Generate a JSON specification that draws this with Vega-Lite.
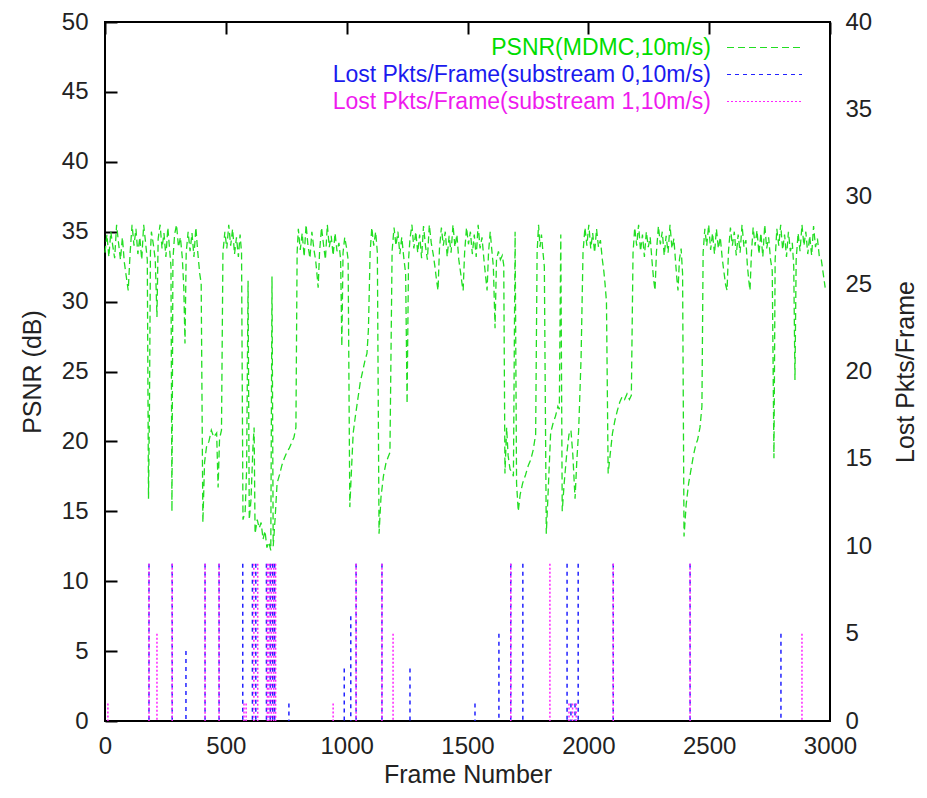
{
  "$schema": "https://vega.github.io/schema/vega-lite/v6.json",
  "width": 725,
  "height": 699,
  "autosize": {"type": "none"},
  "padding": {"left": 105, "top": 22, "right": 97, "bottom": 77},
  "background": "#ffffff",
  "config": {
    "view": {"stroke": "#000000", "strokeWidth": 2},
    "axis": {
      "labelFont": "Liberation Sans", "labelFontSize": 24, "labelColor": "#222222",
      "titleFont": "Liberation Sans", "titleFontSize": 25, "titleFontWeight": "normal", "titleColor": "#222222",
      "domain": false, "ticks": false, "offset": 0, "format": "d",
      "grid": true, "gridColor": "#000000", "gridOpacity": 1, "gridWidth": 2, "gridDash": [12, 3000]
    },
    "legend": {"labelFont": "Liberation Sans"}
  },
  "datasets": {
    "psnr": [
      {"f":0,"v":33.5},{"f":8,"v":34.8},{"f":16,"v":33.2},{"f":24,"v":35.0},{"f":32,"v":34.0},{"f":40,"v":33.1},{"f":48,"v":35.5},{"f":56,"v":34.2},{"f":64,"v":33.0},{"f":72,"v":34.6},{"f":80,"v":32.8},{"f":88,"v":31.8},{"f":96,"v":30.8},{"f":104,"v":33.5},{"f":112,"v":35.5},{"f":120,"v":34.0},{"f":128,"v":35.2},{"f":136,"v":33.4},{"f":144,"v":34.6},{"f":152,"v":33.0},{"f":160,"v":35.5},{"f":168,"v":34.2},{"f":175,"v":33.0},{"f":180,"v":15.9},{"f":184,"v":22.5},{"f":188,"v":33.5},{"f":192,"v":35.0},{"f":200,"v":34.1},{"f":208,"v":33.0},{"f":215,"v":28.9},{"f":220,"v":34.5},{"f":228,"v":35.5},{"f":236,"v":33.8},{"f":244,"v":34.9},{"f":252,"v":33.2},{"f":260,"v":35.3},{"f":268,"v":33.6},{"f":273,"v":32.5},{"f":277,"v":15.0},{"f":281,"v":33.0},{"f":288,"v":34.8},{"f":296,"v":35.5},{"f":304,"v":33.9},{"f":312,"v":34.6},{"f":320,"v":33.1},{"f":326,"v":31.0},{"f":331,"v":27.0},{"f":336,"v":33.5},{"f":344,"v":35.0},{"f":352,"v":33.6},{"f":360,"v":34.9},{"f":368,"v":33.2},{"f":376,"v":35.3},{"f":384,"v":33.5},{"f":392,"v":32.0},{"f":398,"v":31.3},{"f":405,"v":14.2},{"f":412,"v":18.5},{"f":420,"v":19.6},{"f":430,"v":20.0},{"f":440,"v":20.8},{"f":450,"v":20.3},{"f":462,"v":20.6},{"f":468,"v":16.7},{"f":474,"v":20.2},{"f":482,"v":20.8},{"f":488,"v":33.5},{"f":496,"v":35.0},{"f":504,"v":33.8},{"f":512,"v":35.5},{"f":520,"v":34.0},{"f":528,"v":35.2},{"f":536,"v":33.4},{"f":544,"v":34.6},{"f":552,"v":33.2},{"f":559,"v":34.8},{"f":565,"v":33.5},{"f":571,"v":14.4},{"f":580,"v":15.0},{"f":586,"v":18.0},{"f":592,"v":31.5},{"f":597,"v":14.4},{"f":604,"v":15.8},{"f":612,"v":19.5},{"f":617,"v":21.0},{"f":621,"v":13.4},{"f":630,"v":14.4},{"f":638,"v":13.8},{"f":646,"v":14.2},{"f":654,"v":13.0},{"f":662,"v":13.6},{"f":670,"v":12.4},{"f":678,"v":12.8},{"f":686,"v":12.2},{"f":691,"v":31.8},{"f":696,"v":12.5},{"f":704,"v":14.5},{"f":712,"v":17.0},{"f":722,"v":17.6},{"f":732,"v":18.3},{"f":742,"v":18.8},{"f":752,"v":19.2},{"f":762,"v":19.5},{"f":772,"v":19.9},{"f":782,"v":20.3},{"f":790,"v":21.0},{"f":795,"v":33.5},{"f":800,"v":35.2},{"f":808,"v":33.7},{"f":816,"v":34.9},{"f":824,"v":33.2},{"f":832,"v":35.5},{"f":840,"v":34.0},{"f":848,"v":33.1},{"f":856,"v":35.0},{"f":864,"v":33.8},{"f":872,"v":32.9},{"f":878,"v":31.8},{"f":882,"v":31.0},{"f":888,"v":33.6},{"f":896,"v":35.3},{"f":904,"v":34.1},{"f":912,"v":33.0},{"f":920,"v":35.5},{"f":928,"v":33.9},{"f":936,"v":34.7},{"f":944,"v":33.3},{"f":952,"v":34.9},{"f":960,"v":33.6},{"f":968,"v":34.2},{"f":975,"v":33.0},{"f":980,"v":26.8},{"f":985,"v":33.5},{"f":992,"v":34.6},{"f":1000,"v":33.8},{"f":1006,"v":33.0},{"f":1013,"v":15.3},{"f":1020,"v":18.0},{"f":1027,"v":20.6},{"f":1036,"v":21.8},{"f":1046,"v":23.0},{"f":1056,"v":24.2},{"f":1066,"v":25.0},{"f":1076,"v":25.8},{"f":1084,"v":26.3},{"f":1090,"v":28.0},{"f":1097,"v":33.5},{"f":1104,"v":35.3},{"f":1112,"v":34.0},{"f":1120,"v":35.0},{"f":1127,"v":33.5},{"f":1134,"v":13.4},{"f":1142,"v":16.0},{"f":1152,"v":17.5},{"f":1162,"v":18.4},{"f":1172,"v":18.9},{"f":1179,"v":19.2},{"f":1188,"v":33.6},{"f":1196,"v":35.3},{"f":1204,"v":34.0},{"f":1212,"v":35.0},{"f":1220,"v":33.4},{"f":1228,"v":34.6},{"f":1236,"v":33.2},{"f":1244,"v":32.0},{"f":1250,"v":22.7},{"f":1256,"v":33.0},{"f":1262,"v":34.5},{"f":1270,"v":35.5},{"f":1278,"v":33.8},{"f":1286,"v":35.0},{"f":1294,"v":33.5},{"f":1302,"v":34.8},{"f":1310,"v":33.1},{"f":1318,"v":35.4},{"f":1326,"v":34.0},{"f":1334,"v":33.0},{"f":1342,"v":35.5},{"f":1350,"v":34.2},{"f":1358,"v":33.4},{"f":1366,"v":32.4},{"f":1372,"v":31.5},{"f":1378,"v":30.8},{"f":1384,"v":33.8},{"f":1392,"v":35.3},{"f":1400,"v":34.0},{"f":1408,"v":35.0},{"f":1416,"v":33.2},{"f":1424,"v":34.7},{"f":1432,"v":33.5},{"f":1440,"v":35.5},{"f":1448,"v":33.9},{"f":1456,"v":34.8},{"f":1464,"v":33.0},{"f":1472,"v":32.0},{"f":1478,"v":31.2},{"f":1482,"v":30.8},{"f":1488,"v":33.5},{"f":1496,"v":35.3},{"f":1504,"v":34.1},{"f":1512,"v":35.0},{"f":1520,"v":33.4},{"f":1528,"v":34.8},{"f":1536,"v":33.2},{"f":1544,"v":35.5},{"f":1552,"v":33.8},{"f":1560,"v":34.6},{"f":1568,"v":33.0},{"f":1575,"v":31.8},{"f":1581,"v":30.8},{"f":1587,"v":33.5},{"f":1594,"v":35.0},{"f":1600,"v":33.8},{"f":1607,"v":32.5},{"f":1614,"v":28.1},{"f":1620,"v":33.0},{"f":1628,"v":33.6},{"f":1636,"v":33.0},{"f":1644,"v":33.3},{"f":1650,"v":32.6},{"f":1655,"v":17.7},{"f":1662,"v":21.0},{"f":1668,"v":19.0},{"f":1676,"v":18.0},{"f":1684,"v":17.8},{"f":1690,"v":17.5},{"f":1697,"v":35.0},{"f":1703,"v":17.0},{"f":1710,"v":15.0},{"f":1718,"v":16.2},{"f":1728,"v":17.0},{"f":1740,"v":17.6},{"f":1752,"v":18.3},{"f":1762,"v":18.7},{"f":1772,"v":19.4},{"f":1782,"v":20.5},{"f":1788,"v":33.5},{"f":1794,"v":35.5},{"f":1800,"v":33.9},{"f":1806,"v":34.8},{"f":1812,"v":33.6},{"f":1818,"v":32.5},{"f":1826,"v":13.4},{"f":1834,"v":16.5},{"f":1844,"v":20.6},{"f":1854,"v":21.3},{"f":1864,"v":21.8},{"f":1874,"v":22.5},{"f":1880,"v":22.3},{"f":1886,"v":34.8},{"f":1892,"v":15.0},{"f":1900,"v":17.0},{"f":1910,"v":19.0},{"f":1920,"v":20.5},{"f":1928,"v":20.8},{"f":1936,"v":19.0},{"f":1945,"v":15.9},{"f":1952,"v":18.5},{"f":1960,"v":20.8},{"f":1970,"v":26.0},{"f":1978,"v":33.5},{"f":1986,"v":35.3},{"f":1994,"v":34.0},{"f":2002,"v":35.5},{"f":2010,"v":33.8},{"f":2018,"v":34.9},{"f":2026,"v":33.5},{"f":2034,"v":35.2},{"f":2042,"v":33.9},{"f":2050,"v":34.4},{"f":2058,"v":33.0},{"f":2064,"v":32.2},{"f":2069,"v":31.3},{"f":2075,"v":30.0},{"f":2082,"v":17.7},{"f":2090,"v":19.0},{"f":2100,"v":20.6},{"f":2110,"v":21.5},{"f":2120,"v":22.2},{"f":2130,"v":22.8},{"f":2140,"v":23.2},{"f":2150,"v":23.0},{"f":2160,"v":23.4},{"f":2170,"v":23.0},{"f":2178,"v":23.3},{"f":2185,"v":33.5},{"f":2192,"v":35.3},{"f":2200,"v":34.0},{"f":2208,"v":35.5},{"f":2216,"v":33.6},{"f":2224,"v":34.8},{"f":2232,"v":33.2},{"f":2240,"v":35.0},{"f":2248,"v":33.9},{"f":2256,"v":34.6},{"f":2264,"v":32.8},{"f":2270,"v":31.6},{"f":2276,"v":30.8},{"f":2282,"v":33.6},{"f":2290,"v":35.4},{"f":2298,"v":34.1},{"f":2306,"v":35.0},{"f":2314,"v":33.3},{"f":2322,"v":34.7},{"f":2330,"v":33.5},{"f":2338,"v":35.5},{"f":2346,"v":33.8},{"f":2354,"v":34.5},{"f":2362,"v":32.6},{"f":2367,"v":31.5},{"f":2371,"v":30.8},{"f":2377,"v":33.0},{"f":2384,"v":33.8},{"f":2390,"v":32.0},{"f":2396,"v":13.2},{"f":2405,"v":15.5},{"f":2415,"v":17.0},{"f":2425,"v":18.0},{"f":2435,"v":19.0},{"f":2445,"v":19.8},{"f":2452,"v":20.1},{"f":2462,"v":21.0},{"f":2470,"v":22.5},{"f":2475,"v":33.5},{"f":2482,"v":35.2},{"f":2490,"v":34.0},{"f":2498,"v":35.5},{"f":2506,"v":33.7},{"f":2514,"v":34.9},{"f":2522,"v":33.4},{"f":2530,"v":35.2},{"f":2538,"v":33.8},{"f":2546,"v":34.6},{"f":2554,"v":33.1},{"f":2562,"v":32.0},{"f":2568,"v":31.2},{"f":2574,"v":30.8},{"f":2580,"v":33.6},{"f":2588,"v":35.3},{"f":2596,"v":34.0},{"f":2604,"v":35.0},{"f":2612,"v":33.3},{"f":2620,"v":34.8},{"f":2628,"v":33.5},{"f":2636,"v":35.5},{"f":2644,"v":33.9},{"f":2652,"v":34.4},{"f":2658,"v":32.6},{"f":2664,"v":31.5},{"f":2669,"v":30.8},{"f":2675,"v":33.5},{"f":2682,"v":35.3},{"f":2690,"v":34.0},{"f":2698,"v":35.1},{"f":2706,"v":33.4},{"f":2714,"v":34.9},{"f":2722,"v":33.2},{"f":2730,"v":35.5},{"f":2738,"v":33.8},{"f":2746,"v":34.6},{"f":2754,"v":33.0},{"f":2761,"v":32.2},{"f":2768,"v":18.8},{"f":2773,"v":33.0},{"f":2780,"v":35.2},{"f":2788,"v":34.0},{"f":2796,"v":35.5},{"f":2804,"v":33.7},{"f":2812,"v":34.8},{"f":2820,"v":33.2},{"f":2828,"v":35.0},{"f":2836,"v":33.6},{"f":2844,"v":34.2},{"f":2850,"v":32.5},{"f":2855,"v":24.4},{"f":2860,"v":33.0},{"f":2868,"v":34.9},{"f":2876,"v":33.6},{"f":2884,"v":35.5},{"f":2892,"v":34.0},{"f":2900,"v":35.0},{"f":2908,"v":33.4},{"f":2916,"v":34.7},{"f":2924,"v":33.3},{"f":2932,"v":35.4},{"f":2940,"v":33.9},{"f":2948,"v":34.5},{"f":2956,"v":33.2},{"f":2964,"v":33.0},{"f":2972,"v":32.0},{"f":2980,"v":31.0}
    ],
    "lost": [
      {"f":12,"n":1,"s":"Lost Pkts/Frame(substream 1,10m/s)"},
      {"f":182,"n":9,"s":"Lost Pkts/Frame(substream 0,10m/s)"},
      {"f":182,"n":9,"s":"Lost Pkts/Frame(substream 1,10m/s)"},
      {"f":215,"n":5,"s":"Lost Pkts/Frame(substream 1,10m/s)"},
      {"f":278,"n":9,"s":"Lost Pkts/Frame(substream 0,10m/s)"},
      {"f":278,"n":9,"s":"Lost Pkts/Frame(substream 1,10m/s)"},
      {"f":335,"n":4,"s":"Lost Pkts/Frame(substream 0,10m/s)"},
      {"f":414,"n":9,"s":"Lost Pkts/Frame(substream 0,10m/s)"},
      {"f":414,"n":9,"s":"Lost Pkts/Frame(substream 1,10m/s)"},
      {"f":472,"n":9,"s":"Lost Pkts/Frame(substream 0,10m/s)"},
      {"f":472,"n":9,"s":"Lost Pkts/Frame(substream 1,10m/s)"},
      {"f":570,"n":9,"s":"Lost Pkts/Frame(substream 0,10m/s)"},
      {"f":575,"n":1,"s":"Lost Pkts/Frame(substream 1,10m/s)"},
      {"f":584,"n":1,"s":"Lost Pkts/Frame(substream 1,10m/s)"},
      {"f":610,"n":9,"s":"Lost Pkts/Frame(substream 0,10m/s)"},
      {"f":616,"n":9,"s":"Lost Pkts/Frame(substream 1,10m/s)"},
      {"f":624,"n":9,"s":"Lost Pkts/Frame(substream 0,10m/s)"},
      {"f":632,"n":9,"s":"Lost Pkts/Frame(substream 1,10m/s)"},
      {"f":668,"n":9,"s":"Lost Pkts/Frame(substream 0,10m/s)"},
      {"f":672,"n":9,"s":"Lost Pkts/Frame(substream 1,10m/s)"},
      {"f":678,"n":9,"s":"Lost Pkts/Frame(substream 1,10m/s)"},
      {"f":684,"n":9,"s":"Lost Pkts/Frame(substream 0,10m/s)"},
      {"f":688,"n":9,"s":"Lost Pkts/Frame(substream 1,10m/s)"},
      {"f":694,"n":9,"s":"Lost Pkts/Frame(substream 0,10m/s)"},
      {"f":698,"n":9,"s":"Lost Pkts/Frame(substream 1,10m/s)"},
      {"f":702,"n":9,"s":"Lost Pkts/Frame(substream 0,10m/s)"},
      {"f":706,"n":9,"s":"Lost Pkts/Frame(substream 1,10m/s)"},
      {"f":761,"n":1,"s":"Lost Pkts/Frame(substream 0,10m/s)"},
      {"f":944,"n":1,"s":"Lost Pkts/Frame(substream 1,10m/s)"},
      {"f":990,"n":3,"s":"Lost Pkts/Frame(substream 0,10m/s)"},
      {"f":1017,"n":6,"s":"Lost Pkts/Frame(substream 0,10m/s)"},
      {"f":1039,"n":9,"s":"Lost Pkts/Frame(substream 0,10m/s)"},
      {"f":1039,"n":9,"s":"Lost Pkts/Frame(substream 1,10m/s)"},
      {"f":1146,"n":9,"s":"Lost Pkts/Frame(substream 0,10m/s)"},
      {"f":1146,"n":9,"s":"Lost Pkts/Frame(substream 1,10m/s)"},
      {"f":1192,"n":5,"s":"Lost Pkts/Frame(substream 1,10m/s)"},
      {"f":1262,"n":3,"s":"Lost Pkts/Frame(substream 0,10m/s)"},
      {"f":1531,"n":1,"s":"Lost Pkts/Frame(substream 0,10m/s)"},
      {"f":1630,"n":5,"s":"Lost Pkts/Frame(substream 0,10m/s)"},
      {"f":1679,"n":9,"s":"Lost Pkts/Frame(substream 0,10m/s)"},
      {"f":1679,"n":9,"s":"Lost Pkts/Frame(substream 1,10m/s)"},
      {"f":1729,"n":9,"s":"Lost Pkts/Frame(substream 0,10m/s)"},
      {"f":1841,"n":9,"s":"Lost Pkts/Frame(substream 1,10m/s)"},
      {"f":1912,"n":9,"s":"Lost Pkts/Frame(substream 0,10m/s)"},
      {"f":1920,"n":1,"s":"Lost Pkts/Frame(substream 1,10m/s)"},
      {"f":1928,"n":1,"s":"Lost Pkts/Frame(substream 0,10m/s)"},
      {"f":1935,"n":1,"s":"Lost Pkts/Frame(substream 1,10m/s)"},
      {"f":1945,"n":1,"s":"Lost Pkts/Frame(substream 0,10m/s)"},
      {"f":1950,"n":1,"s":"Lost Pkts/Frame(substream 1,10m/s)"},
      {"f":1958,"n":9,"s":"Lost Pkts/Frame(substream 0,10m/s)"},
      {"f":2103,"n":9,"s":"Lost Pkts/Frame(substream 0,10m/s)"},
      {"f":2103,"n":9,"s":"Lost Pkts/Frame(substream 1,10m/s)"},
      {"f":2421,"n":9,"s":"Lost Pkts/Frame(substream 0,10m/s)"},
      {"f":2421,"n":9,"s":"Lost Pkts/Frame(substream 1,10m/s)"},
      {"f":2797,"n":5,"s":"Lost Pkts/Frame(substream 0,10m/s)"},
      {"f":2884,"n":5,"s":"Lost Pkts/Frame(substream 1,10m/s)"}
    ]
  },
  "layer": [
    {
      "data": {"name": "psnr"},
      "mark": {"type": "line", "strokeWidth": 1.3, "interpolate": "linear"},
      "encoding": {
        "x": {"field": "f", "type": "quantitative", "scale": {"domain": [0, 3000], "nice": false},
              "axis": {"title": "Frame Number", "values": [0,500,1000,1500,2000,2500,3000], "labelPadding": 13, "labelFlush": false, "titlePadding": 4}},
        "y": {"field": "v", "type": "quantitative", "scale": {"domain": [0, 50], "nice": false},
              "axis": {"title": "PSNR (dB)", "values": [0,5,10,15,20,25,30,35,40,45,50], "labelPadding": 17, "titlePadding": 16}},
        "color": {"datum": "PSNR(MDMC,10m/s)", "type": "nominal", "title": null,
                  "scale": {"domain": ["PSNR(MDMC,10m/s)", "Lost Pkts/Frame(substream 0,10m/s)", "Lost Pkts/Frame(substream 1,10m/s)"],
                            "range": ["#22dd22", "#2222ff", "#ff22ff"]},
                  "legend": {"orient": "none", "legendX": 646, "legendY": 12, "title": null, "symbolType": "M-3,0H3", "symbolSize": 625,
                             "symbolStrokeWidth": 1.2, "symbolFillColor": "transparent", "labelAlign": "right", "labelOffset": -67, "rowPadding": 1,
                             "labelFontSize": 23, "labelLimit": 0,
                             "labelColor": {"expr": "datum.index == 0 ? '#00dd00' : datum.index == 1 ? '#1a1aee' : '#ee1aee'"}}},
        "strokeDash": {"datum": "PSNR(MDMC,10m/s)", "type": "nominal", "title": null,
                       "scale": {"domain": ["PSNR(MDMC,10m/s)", "Lost Pkts/Frame(substream 0,10m/s)", "Lost Pkts/Frame(substream 1,10m/s)"],
                                 "range": [[7, 4], [4, 4], [2, 2]]},
                       "legend": null}
      }
    },
    {
      "data": {"name": "lost"},
      "mark": {"type": "rule", "strokeWidth": 1.5},
      "encoding": {
        "x": {"field": "f", "type": "quantitative", "scale": {"domain": [0, 3000], "nice": false},
              "axis": {"orient": "top", "title": null, "labels": false, "values": [0,500,1000,1500,2000,2500,3000]}},
        "y": {"field": "n", "type": "quantitative", "scale": {"domain": [0, 40], "nice": false},
              "axis": {"orient": "right", "title": "Lost Pkts/Frame", "values": [0,5,10,15,20,25,30,35,40], "labelPadding": 15, "titlePadding": 22, "titleAngle": 270, "titleBaseline": "top"}},
        "y2": {"datum": 0},
        "color": {"field": "s", "type": "nominal", "title": null},
        "strokeDash": {"field": "s", "type": "nominal", "title": null, "legend": null}
      }
    }
  ],
  "resolve": {"scale": {"y": "independent"}, "axis": {"x": "independent"}}
}
